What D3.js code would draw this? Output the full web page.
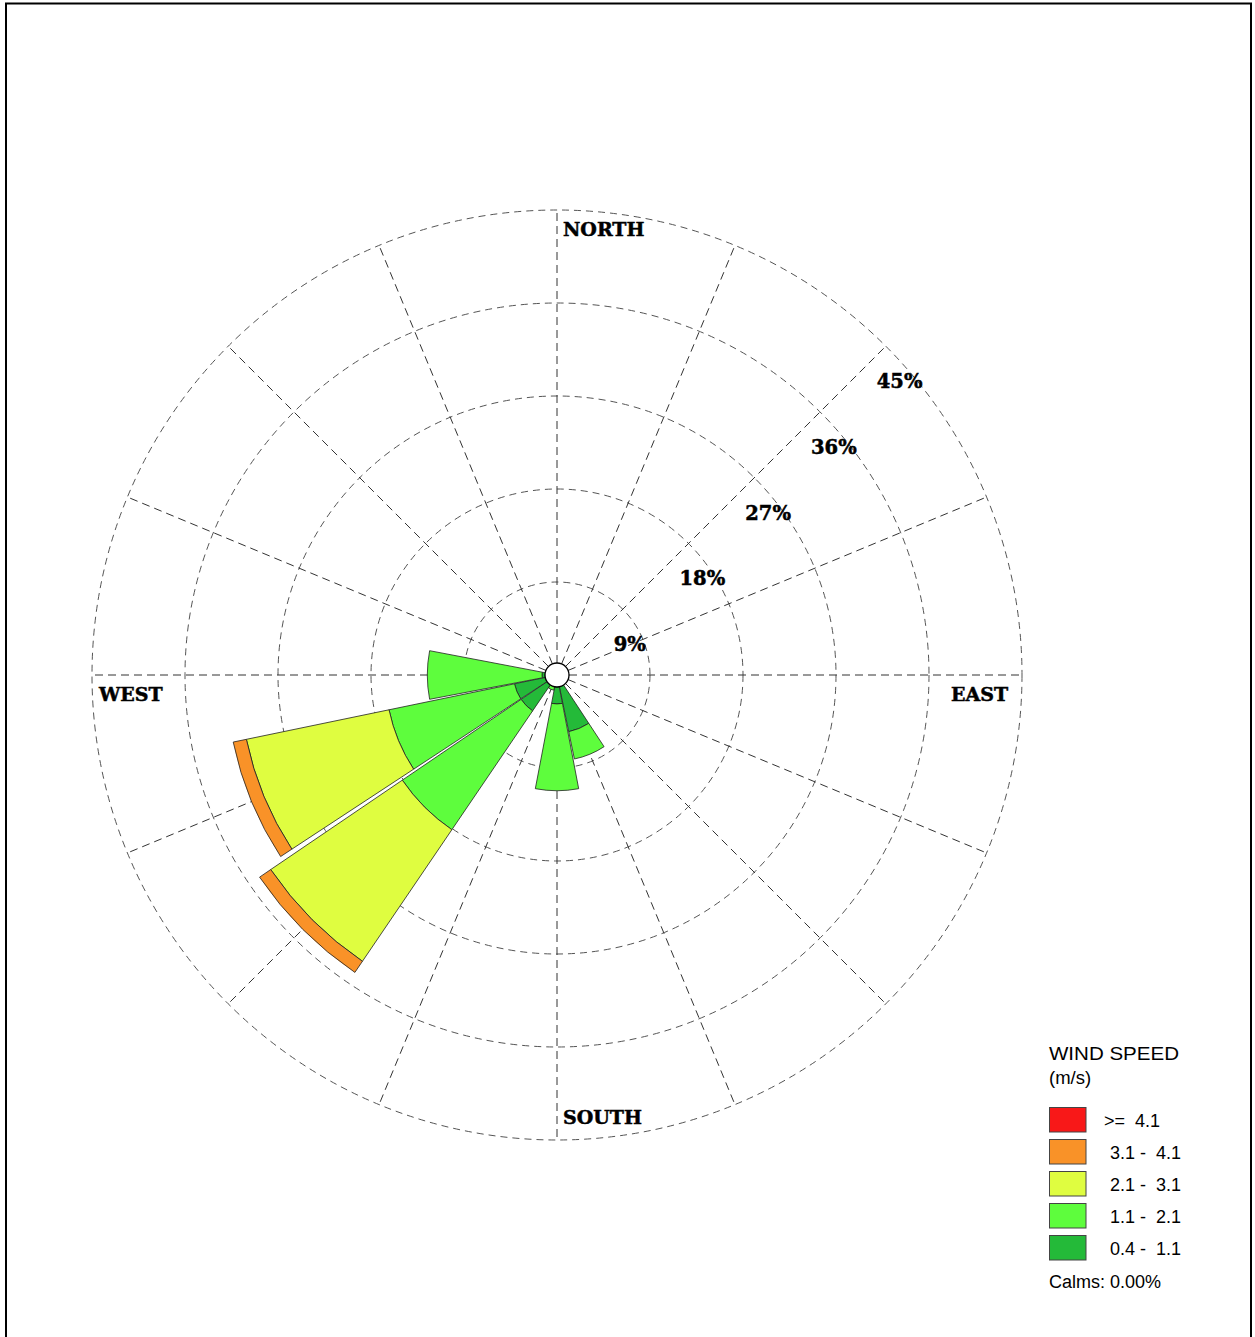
<!DOCTYPE html>
<html>
<head>
<meta charset="utf-8">
<script src="https://cdn.jsdelivr.net/npm/d3@7"></script>
<style>
  html, body { margin: 0; padding: 0; background: #fff; }
  svg { display: block; }
</style>
</head>
<body>
<script>
// ---------- DATA ----------
const directions = ["N","NNE","NE","ENE","E","ESE","SE","SSE","S","SSW","SW","WSW","W","WNW","NW","NNW"];
// frequency (%) per speed class, per direction (same order as directions)
const speedClasses = ["0.4 -  1.1", "1.1 -  2.1", "2.1 -  3.1", "3.1 -  4.1", ">=  4.1"];
const s0_4_1_1 = [0,0,0,0,0,0,0,5.6,2.8,1.1,4.2,4.2,1.45,0,0,0];
const s1_1_2_1 = [0,0,0,0,0,0,0,2.7,8.4,0.4,13.9,12.4,11.1,0,0,0];
const s2_1_3_1 = [0,0,0,0,0,0,0,0,0,0,15.4,14.1,0,0,0,0];
const s3_1_4_1 = [0,0,0,0,0,0,0,0,0,0,1.3,1.3,0,0,0,0];
const s4_1_up  = [0,0,0,0,0,0,0,0,0,0,0,0,0,0,0,0];
const ringTicks = [9, 18, 27, 36, 45];
const ringLabels = ["9%", "18%", "27%", "36%", "45%"];
const compassLabels = ["NORTH", "EAST", "SOUTH", "WEST"];
const legendTitle = ["WIND SPEED", "(m/s)"];
const calmsText = "Calms: 0.00%";

const series = [s0_4_1_1, s1_1_2_1, s2_1_3_1, s3_1_4_1, s4_1_up];
const colors = ["#24ba39", "#5efd3d", "#dffd40", "#f99228", "#f81818"];

// ---------- LAYOUT ----------
const W = 1255, H = 1337;
const cx = 557, cy = 675, R = 465, calmR = 12;
const svg = d3.select("body").append("svg").attr("width", W).attr("height", H);

svg.append("rect").attr("x", 6).attr("y", 3.5).attr("width", 1245).attr("height", 1400)
  .attr("fill", "#fff").attr("stroke", "#000").attr("stroke-width", 2);

const r = d3.scaleLinear().domain([0, 45]).range([0, R]);
const step = 360 / directions.length;
const half = 10.8; // half angular width of bars (degrees)
const g = svg.append("g").attr("transform", `translate(${cx},${cy})`);

// grid rings
g.selectAll("circle.ring").data(ringTicks).join("circle")
  .attr("class", "ring").attr("r", d => r(d))
  .attr("fill", "none").attr("stroke", "#555").attr("stroke-width", 1)
  .attr("stroke-dasharray", "7,5");

// spokes
g.selectAll("line.spoke").data(directions).join("line")
  .attr("class", "spoke")
  .attr("x1", (d, i) => calmR * Math.sin(i * step * Math.PI / 180))
  .attr("y1", (d, i) => -calmR * Math.cos(i * step * Math.PI / 180))
  .attr("x2", (d, i) => R * Math.sin(i * step * Math.PI / 180))
  .attr("y2", (d, i) => -R * Math.cos(i * step * Math.PI / 180))
  .attr("stroke", "#333").attr("stroke-width", 1).attr("stroke-dasharray", "8,5");

// bars
const arc = d3.arc();
const segs = [];
directions.forEach((dir, i) => {
  let cum = 0;
  series.forEach((s, k) => {
    const v = s[i];
    if (v > 0) {
      const r0 = Math.max(calmR, r(cum));
      const r1 = Math.max(calmR, r(cum + v));
      if (r1 > r0) segs.push({ i, k, r0, r1 });
    }
    cum += v;
  });
});
g.selectAll("path.bar").data(segs).join("path")
  .attr("class", "bar")
  .attr("d", d => arc({
    innerRadius: d.r0, outerRadius: d.r1,
    startAngle: (d.i * step - half) * Math.PI / 180,
    endAngle: (d.i * step + half) * Math.PI / 180
  }))
  .attr("fill", d => colors[d.k])
  .attr("stroke", "#222").attr("stroke-width", 0.8);

// calm circle
g.append("circle").attr("r", calmR).attr("fill", "#fff")
  .attr("stroke", "#000").attr("stroke-width", 1.3);

// ring labels
const serif = "'DejaVu Serif', serif";
g.selectAll("text.rl").data(ringTicks).join("text")
  .attr("class", "rl")
  .attr("x", d => r(d) * Math.SQRT1_2 - 9)
  .attr("y", d => -r(d) * Math.SQRT1_2 + 42)
  .attr("font-family", serif).attr("font-weight", "bold").attr("font-size", 19.5)
  .attr("fill", "#000").attr("stroke", "#000").attr("stroke-width", 0.5)
  .text((d, i) => ringLabels[i]);

// compass labels
const compassPos = [[563, 236], [951, 701], [563, 1124], [99, 701]];
svg.selectAll("text.cl").data(compassLabels).join("text")
  .attr("class", "cl")
  .attr("x", (d, i) => compassPos[i][0]).attr("y", (d, i) => compassPos[i][1])
  .attr("font-family", serif).attr("font-weight", "bold").attr("font-size", 19)
  .attr("fill", "#000").attr("stroke", "#000").attr("stroke-width", 0.5)
  .text(d => d);

// legend
const sans = "'Liberation Sans', Arial, sans-serif";
const lg = svg.append("g");
lg.append("text").attr("x", 1049).attr("y", 1060).attr("font-family", sans).attr("font-size", 18)
  .attr("textLength", 130).attr("lengthAdjust", "spacingAndGlyphs").text(legendTitle[0]);
lg.append("text").attr("x", 1049).attr("y", 1084).attr("font-family", sans).attr("font-size", 18.5)
  .text(legendTitle[1]);
const legendOrder = [4, 3, 2, 1, 0];
const ly = d3.scaleLinear().domain([0, 1]).range([1107.5, 1139.5]);
legendOrder.forEach((k, j) => {
  lg.append("rect").attr("x", 1049.5).attr("y", ly(j)).attr("width", 36.5).attr("height", 24.5)
    .attr("fill", colors[k]).attr("stroke", "#444").attr("stroke-width", 1);
  lg.append("text").attr("x", k === 4 ? 1104 : 1110).attr("y", ly(j) + 19)
    .attr("font-family", sans).attr("font-size", 18).attr("xml:space", "preserve")
    .style("white-space", "pre")
    .text(speedClasses[k]);
});
lg.append("text").attr("x", 1049).attr("y", 1288).attr("font-family", sans).attr("font-size", 18)
  .text(calmsText);
</script>
</body>
</html>
